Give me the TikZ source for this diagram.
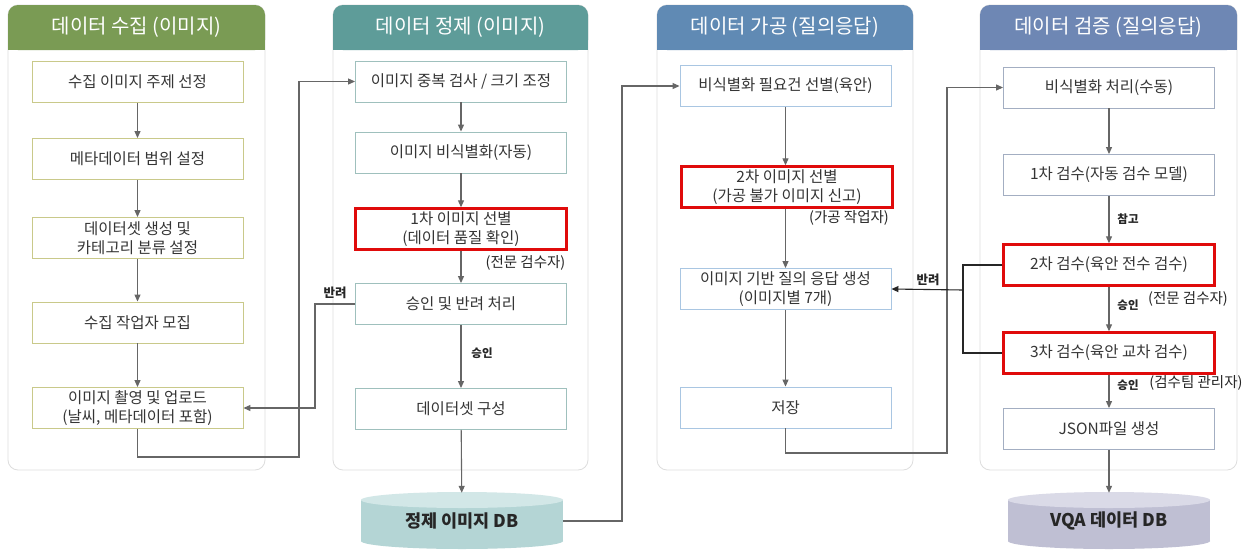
\documentclass[tikz,border=0pt]{standalone}
\usepackage{fontspec}
\setmainfont{Noto Sans CJK KR}
\usetikzlibrary{arrows.meta}
\definecolor{hdrA}{HTML}{7A9B54}
\definecolor{hdrB}{HTML}{5E9C99}
\definecolor{hdrC}{HTML}{608AB4}
\definecolor{hdrD}{HTML}{6E87B4}
\definecolor{bdA}{HTML}{C9C98A}
\definecolor{bdB}{HTML}{9FC0BD}
\definecolor{bdC}{HTML}{A9C6E2}
\definecolor{bdD}{HTML}{A3AEC2}
\definecolor{redbd}{HTML}{E00B0B}
\definecolor{panelbd}{HTML}{DDDDDD}
\definecolor{txt}{HTML}{353535}
\definecolor{conn}{HTML}{666666}
\definecolor{dbAbody}{HTML}{B4D5D5}
\definecolor{dbAtop}{HTML}{D2E7E7}
\definecolor{dbBbody}{HTML}{BFBFD3}
\definecolor{dbBtop}{HTML}{DADAE7}
\tikzset{
  panel/.style={draw=panelbd, line width=0.8pt, fill=white, rounded corners=10pt},
  hdrtext/.style={text=white, font=\fontsize{20}{23}\selectfont},
  procbox/.style={draw=#1, fill=white, line width=0.9pt, minimum width=211pt, minimum height=41pt,
    align=center, inner sep=0pt, text=txt, font=\fontsize{15.5}{19.5}\selectfont},
  redbox/.style={procbox=redbd, line width=2.4pt},
  arr/.style={draw=conn, line width=1.1pt, -{Triangle[length=7pt,width=6pt]}},
  blackarr/.style={draw=black!85, line width=1.1pt, -{Triangle[length=7pt,width=6pt]}},
  blackline/.style={draw=black!85, line width=1.1pt},
  lbl/.style={text=black!85, font=\bfseries\fontsize{11.5}{13}\selectfont, inner sep=1pt},
  biglbl/.style={lbl, font=\bfseries\fontsize{12.5}{14}\selectfont},
  note/.style={text=black!85, font=\fontsize{14.5}{16}\selectfont, inner sep=1pt},
  dbtext/.style={text=black!85, font=\bfseries\fontsize{17.5}{20}\selectfont, minimum width=202pt, minimum height=56pt, inner sep=0pt}
}
\begin{document}
\begin{tikzpicture}[x=1pt,y=-1pt]
\useasboundingbox (0,0) rectangle (1250,549);
\fill[white] (0,0) rectangle (1250,549);

% panels
\path[panel] (8,5) rectangle (265,470);
\path[panel] (333,5) rectangle (588,470);
\path[panel] (657,5) rectangle (913,470);
\path[panel] (980,5) rectangle (1237,470);
% headers
\fill[hdrA, rounded corners=10pt] (8,5) rectangle (265,50);
\fill[hdrA] (8,30) rectangle (265,50);
\fill[hdrB, rounded corners=10pt] (333,5) rectangle (588,50);
\fill[hdrB] (333,30) rectangle (588,50);
\fill[hdrC, rounded corners=10pt] (657,5) rectangle (913,50);
\fill[hdrC] (657,30) rectangle (913,50);
\fill[hdrD, rounded corners=10pt] (980,5) rectangle (1237,50);
\fill[hdrD] (980,30) rectangle (1237,50);
\node[hdrtext] (h1) at (136.5,27.5) {데이터 수집 (이미지)};
\node[hdrtext] (h2) at (460.5,27.5) {데이터 정제 (이미지)};
\node[hdrtext] (h3) at (785,27.5) {데이터 가공 (질의응답)};
\node[hdrtext] (h4) at (1108.5,27.5) {데이터 검증 (질의응답)};

% column 1
\node[procbox=bdA] (c1b1) at (137.5,82) {수집 이미지 주제 선정};
\node[procbox=bdA] (c1b2) at (137.5,159) {메타데이터 범위 설정};
\node[procbox=bdA] (c1b3) at (137.5,238) {데이터셋 생성 및\\카테고리 분류 설정};
\node[procbox=bdA] (c1b4) at (137.5,322.5) {수집 작업자 모집};
\node[procbox=bdA] (c1b5) at (137.5,408) {이미지 촬영 및 업로드\\(날씨, 메타데이터 포함)};

% column 2
\node[procbox=bdB] (c2b1) at (461,81.5) {이미지 중복 검사 / 크기 조정};
\node[procbox=bdB] (c2b2) at (461,152.5) {이미지 비식별화(자동)};
\node[redbox] (c2b3) at (461,229) {1차 이미지 선별\\(데이터 품질 확인)};
\node[procbox=bdB] (c2b4) at (461,304) {승인 및 반려 처리};
\node[procbox=bdB] (c2b5) at (461,409) {데이터셋 구성};

% column 3
\node[procbox=bdC] (c3b1) at (785.5,86) {비식별화 필요건 선별(육안)};
\node[redbox] (c3b2) at (787,187) {2차 이미지 선별\\(가공 불가 이미지 신고)};
\node[procbox=bdC] (c3b3) at (785.5,289) {이미지 기반 질의 응답 생성\\(이미지별 7개)};
\node[procbox=bdC] (c3b4) at (785.5,407.5) {저장};

% column 4
\node[procbox=bdD] (c4b1) at (1109,87.5) {비식별화 처리(수동)};
\node[procbox=bdD] (c4b2) at (1109,175) {1차 검수(자동 검수 모델)};
\node[redbox] (c4b3) at (1109,265) {2차 검수(육안 전수 검수)};
\node[redbox] (c4b4) at (1109,353) {3차 검수(육안 교차 검수)};
\node[procbox=bdD] (c4b5) at (1109,429) {JSON파일 생성};

% databases
\fill[dbAbody] (361,500) rectangle (563,541);
\fill[dbAbody] (462,541) ellipse (101 and 8);
\fill[dbAtop] (462,500) ellipse (101 and 8);
\node[dbtext] (db1) at (462,521) {정제 이미지 DB};
\fill[dbBbody] (1008,500) rectangle (1210,541);
\fill[dbBbody] (1109,541) ellipse (101 and 8);
\fill[dbBtop] (1109,500) ellipse (101 and 8);
\node[dbtext] (db2) at (1109,521) {VQA 데이터 DB};

% vertical flow arrows
\draw[arr] (c1b1) -- (c1b2);
\draw[arr] (c1b2) -- (c1b3);
\draw[arr] (c1b3) -- (c1b4);
\draw[arr] (c1b4) -- (c1b5);
\draw[arr] (c2b1) -- (c2b2);
\draw[arr] (c2b2) -- (c2b3);
\draw[arr] (c2b3) -- (c2b4);
\draw[arr] (c2b4) -- (c2b5);
\draw[arr] (c2b5) -- (db1);
\draw[arr] (c3b1.south) -- (c3b2.north -| c3b1.south);
\draw[arr] (c3b2.south -| c3b3.north) -- (c3b3);
\draw[arr] (c3b3) -- (c3b4);
\draw[arr] (c4b1) -- (c4b2);
\draw[arr] (c4b2) -- (c4b3);
\draw[arr] (c4b3) -- (c4b4);
\draw[arr] (c4b4) -- (c4b5);
\draw[arr] (c4b5) -- (db2);

% cross-column connectors
\coordinate (k1) at (299,457);
\coordinate (k2) at (315,408);
\coordinate (k3) at (622,86);
\coordinate (k4) at (947,453);
\coordinate (k5) at (963,290);
\draw[arr] (c1b5.south) |- (k1) |- (c2b1.west);
\draw[arr] (c2b4.west) -| (k2) -- (c1b5.east);
\draw[arr] (db1.east) -| (k3) -- (c3b1.west);
\draw[arr] (c3b4.south) |- (k4) |- (c4b1.west);
\draw[blackline] (c4b3.west) -| (k5) |- (c4b4.west);
\draw[blackarr] (k5) -- (c3b3.east);

% labels
\node[biglbl] (l1) at (335,293) {반려};
\node[lbl] (l2) at (482,353) {승인};
\node[note] (n1) at (525.5,263) {(전문 검수자)};
\node[note] (n2) at (849,218) {(가공 작업자)};
\node[biglbl] (l3) at (928,280) {반려};
\node[lbl] (l4) at (1128,219) {참고};
\node[lbl] (l5) at (1128,305) {승인};
\node[note] (n3) at (1188,299) {(전문 검수자)};
\node[lbl] (l6) at (1128,385) {승인};
\node[note] (n4) at (1196,383) {(검수팀 관리자)};
\end{tikzpicture}
\end{document}
